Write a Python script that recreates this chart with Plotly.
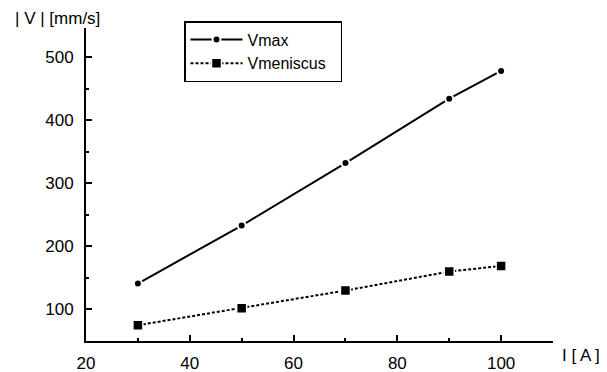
import plotly.graph_objects as go

current = [30, 50, 70, 90, 100]
vmax = [141, 233, 332, 434, 478]
vmen = [75, 102, 130, 160, 169]
x_ticks = [20, 40, 60, 80, 100]
y_ticks = [100, 200, 300, 400, 500]
series_names = ["Vmax", "Vmeniscus"]

FONT = "Liberation Sans, Arial, sans-serif"
FS = 17

fig = go.Figure()
fig.add_trace(go.Scatter(
    x=current, y=vmax, name=series_names[0], mode="lines+markers",
    line=dict(color="black", width=2),
    marker=dict(symbol="circle", size=8, color="black", line=dict(color="white", width=2)),
))
fig.add_trace(go.Scatter(
    x=current, y=vmen, name=series_names[1] + "\u00a0\u00a0", mode="lines+markers",
    line=dict(color="black", width=2, dash="3px,2px"),
    marker=dict(symbol="square", size=10, color="black", line=dict(color="white", width=1.5)),
))

axis_common = dict(
    showline=True, linecolor="black", linewidth=2,
    ticks="inside", ticklen=6, tickwidth=2, tickcolor="black",
    showgrid=False, zeroline=False,
    tickfont=dict(family=FONT, size=FS, color="black"),
)
fig.update_xaxes(range=[20, 110], tickvals=x_ticks, ticklabelstandoff=6,
                 minor=dict(ticks="inside", ticklen=3, tickwidth=2, tickcolor="black", dtick=10),
                 **axis_common)
fig.update_yaxes(range=[50, 546], tickvals=y_ticks, ticklabelstandoff=7,
                 minor=dict(ticks="inside", ticklen=3, tickwidth=2, tickcolor="black", dtick=50),
                 **axis_common)

L, R, T, B = 86, 54, 28, 31
pw = 607 - L - R
ph = 372 - T - B

fig.update_layout(
    width=607, height=372,
    margin=dict(l=L, r=R, t=T, b=B, autoexpand=False),
    plot_bgcolor="white", paper_bgcolor="white",
    font=dict(family=FONT, size=FS, color="black"),
    legend=dict(x=(184 - L) / pw, y=(372 - B - 21) / ph, xanchor="left", yanchor="top",
                bordercolor="black", borderwidth=1.5, bgcolor="white",
                itemwidth=52,
                font=dict(family=FONT, size=16, color="black")),
    annotations=[
        dict(text="| V | [mm/s]", x=(13 - L) / pw, y=(372 - B - 19) / ph,
             xref="paper", yref="paper", showarrow=False, xanchor="left", yanchor="middle"),
        dict(text="I [ A ]", x=(560 - L) / pw, y=(372 - B - 355) / ph,
             xref="paper", yref="paper", showarrow=False, xanchor="left", yanchor="middle"),
    ],
)

fig.write_html("out.html")
